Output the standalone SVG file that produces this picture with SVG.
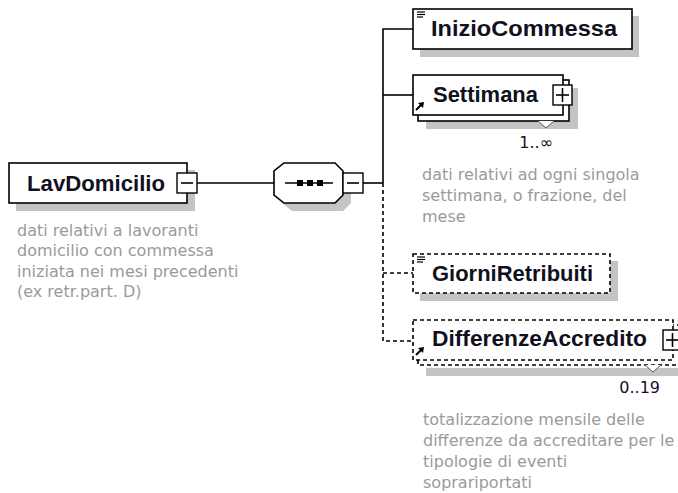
<svg xmlns="http://www.w3.org/2000/svg" width="678" height="493" viewBox="0 0 678 493">
<defs>
<style>
.box{fill:#fff;stroke:#000;stroke-width:1.6}
.dash{stroke-dasharray:4,3}
.shadow{fill:#c4c4c4;stroke:none}
.title{font-family:"Liberation Sans",Arial,sans-serif;font-weight:bold;font-size:22px;fill:#101020}
.desc{font-family:"DejaVu Sans",Verdana,sans-serif;font-size:16px;fill:#9a9a9a}
.mult{font-family:"DejaVu Sans",Verdana,sans-serif;font-size:16px;fill:#1a0a30}
.conn{fill:none;stroke:#000;stroke-width:1.6}
.btn{fill:#fff;stroke:#000;stroke-width:1.4}
.sign{stroke:#000;stroke-width:1.6;fill:none}
</style>
<g id="refArrow">
<path d="M0,9 L5,4" stroke="#000" stroke-width="2" fill="none"/>
<polygon points="2,2 8,1 7,7" fill="#000"/>
</g>
<g id="leafIcon" stroke="#000" stroke-width="1.2">
<line x1="0" y1="0" x2="8" y2="0"/>
<line x1="0" y1="2.5" x2="8" y2="2.5"/>
<line x1="0" y1="5" x2="6" y2="5"/>
</g>
</defs>

<g id="connectors">
<line class="conn" x1="197" y1="183" x2="274" y2="183"/>
<line class="conn" x1="363" y1="183" x2="383" y2="183"/>
<polyline class="conn" points="413,29 383,29 383,183"/>
<line class="conn" x1="383" y1="95" x2="413" y2="95"/>
<polyline class="conn dash" points="383,183 383,341 413,341"/>
<line class="conn dash" x1="383" y1="273" x2="413" y2="273"/>
</g>

<g id="LavDomicilio">
<rect class="shadow" x="16" y="170" width="179" height="41"/>
<rect class="box" x="9" y="163" width="178" height="40"/>
<text class="title" x="27" y="191" textLength="138" lengthAdjust="spacingAndGlyphs">LavDomicilio</text>
<rect class="btn" x="177" y="173" width="20" height="20"/>
<line class="sign" x1="181" y1="183" x2="193" y2="183"/>
<text class="desc" x="17" y="236">dati relativi a lavoranti</text>
<text class="desc" x="17" y="256">domicilio con commessa</text>
<text class="desc" x="17" y="277">iniziata nei mesi precedenti</text>
<text class="desc" x="17" y="297">(ex retr.part. D)</text>
</g>

<g id="sequence">
<polygon class="shadow" points="292,171 343,171 351,179 351,203 343,211 292,211 282,203 282,179"/>
<polygon class="box" points="284,163 335,163 343,171 343,195 335,203 284,203 274,195 274,171"/>
<line class="conn" x1="285" y1="183" x2="333" y2="183"/>
<rect x="297" y="180" width="6" height="6" fill="#000"/>
<rect x="307" y="180" width="6" height="6" fill="#000"/>
<rect x="317" y="180" width="6" height="6" fill="#000"/>
<rect class="btn" x="343" y="173" width="20" height="20"/>
<line class="sign" x1="347" y1="183" x2="359" y2="183"/>
</g>

<g id="InizioCommessa">
<rect class="shadow" x="420" y="16" width="219" height="41"/>
<rect class="box" x="413" y="9" width="219" height="40"/>
<use href="#leafIcon" x="417" y="12"/>
<text class="title" x="431" y="36" textLength="186" lengthAdjust="spacingAndGlyphs">InizioCommessa</text>
</g>

<g id="Settimana">
<rect class="shadow" x="426" y="88" width="152" height="41"/>
<rect class="box" x="418" y="80" width="151" height="41"/>
<rect class="box" x="413" y="75" width="150" height="40"/>
<use href="#refArrow" x="416" y="101"/>
<text class="title" x="433" y="102" textLength="105" lengthAdjust="spacingAndGlyphs">Settimana</text>
<rect class="btn" x="553" y="85" width="19" height="20"/>
<line class="sign" x1="556" y1="95" x2="569" y2="95"/>
<line class="sign" x1="562.5" y1="88" x2="562.5" y2="102"/>
<polyline points="538,121 546,128 554,121" fill="#fff" stroke="#555" stroke-width="1"/>
<text class="mult" x="553" y="148" text-anchor="end">1..∞</text>
<text class="desc" x="422" y="180">dati relativi ad ogni singola</text>
<text class="desc" x="422" y="201">settimana, o frazione, del</text>
<text class="desc" x="422" y="222">mese</text>
</g>

<g id="GiorniRetribuiti">
<rect class="shadow" x="420" y="261" width="198" height="40"/>
<rect class="box dash" x="413" y="254" width="197" height="39"/>
<use href="#leafIcon" x="417" y="257"/>
<text class="title" x="432" y="281" textLength="161" lengthAdjust="spacingAndGlyphs">GiorniRetribuiti</text>
</g>

<g id="DifferenzeAccredito">
<rect class="shadow" x="426" y="368" width="260" height="8"/>
<rect class="box dash" x="418" y="325" width="270" height="40"/>
<rect class="box dash" x="413" y="320" width="260" height="40"/>
<use href="#refArrow" x="416" y="346"/>
<text class="title" x="432" y="346" textLength="215" lengthAdjust="spacingAndGlyphs">DifferenzeAccredito</text>
<rect class="btn" x="663" y="330" width="19" height="20"/>
<line class="sign" x1="666" y1="340" x2="679" y2="340"/>
<line class="sign" x1="672.5" y1="333" x2="672.5" y2="347"/>
<polyline points="645,365 653,372 661,365" fill="#fff" stroke="#555" stroke-width="1"/>
<text class="mult" x="660" y="393" text-anchor="end">0..19</text>
<text class="desc" x="423" y="425">totalizzazione mensile delle</text>
<text class="desc" x="423" y="446">differenze da accreditare per le</text>
<text class="desc" x="423" y="467">tipologie di eventi</text>
<text class="desc" x="423" y="488">soprariportati</text>
</g>
</svg>
